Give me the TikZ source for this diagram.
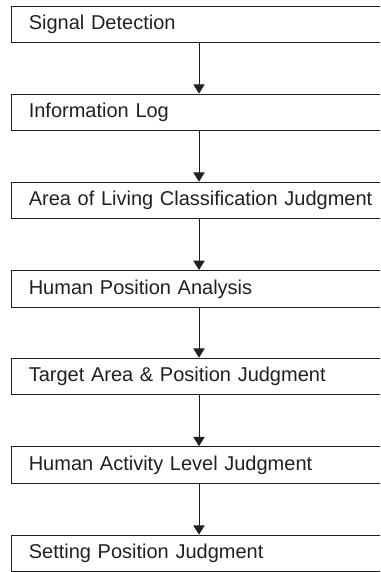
\documentclass[tikz,border=0pt]{standalone}
\usepackage{fontspec}
\setmainfont{Liberation Sans}
\usetikzlibrary{arrows.meta,calc}
\definecolor{ink}{HTML}{231F20}
\tikzset{
  stepbox/.style={draw=ink, line width=0.75pt, anchor=north west, text=ink,
    font=\fontsize{15}{18}\selectfont, align=left, text width=272pt,
    inner xsep=13.2pt, minimum height=27.5pt, inner ysep=0pt},
  arr/.style={draw=ink, line width=0.75pt, -{Triangle[width=8.5pt,length=7pt]}}
}
\begin{document}
\begin{tikzpicture}[x=0.75pt,y=-0.75pt]
\useasboundingbox (0,0) rectangle (380,572);
\clip (0,0) rectangle (380,572);
\coordinate (ax) at (199,0);
\node[stepbox] (b1) at (10.7,5.7) {Signal Detection};
\node[stepbox] (b2) at (10.7,93.6) {Information Log};
\node[stepbox] (b3) at (10.7,181.7) {Area of Living Classification Judgment};
\node[stepbox] (b4) at (10.7,270) {Human Position Analysis};
\node[stepbox] (b5) at (10.7,357.7) {Target Area \& Position Judgment};
\node[stepbox] (b6) at (10.7,446.2) {Human Activity Level Judgment};
\node[stepbox] (b7) at (10.7,534.6) {Setting Position Judgment};
\draw[arr] (b1.south -| ax) -- (b2.north -| ax);
\draw[arr] (b2.south -| ax) -- (b3.north -| ax);
\draw[arr] (b3.south -| ax) -- (b4.north -| ax);
\draw[arr] (b4.south -| ax) -- (b5.north -| ax);
\draw[arr] (b5.south -| ax) -- (b6.north -| ax);
\draw[arr] (b6.south -| ax) -- (b7.north -| ax);
\end{tikzpicture}
\end{document}
